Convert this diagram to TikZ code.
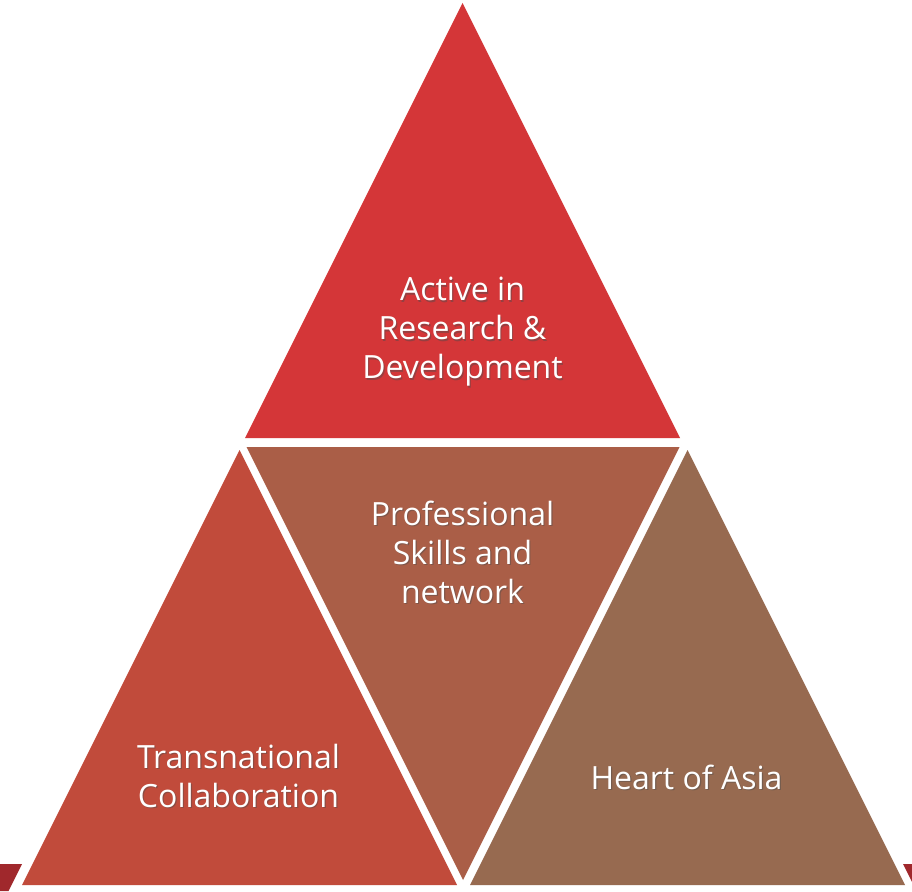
\documentclass[tikz,border=0pt]{standalone}
\usepackage{fontspec}
\setmainfont{Open Sans}
\definecolor{cTop}{HTML}{D43638}
\definecolor{cLeft}{HTML}{C14B3B}
\definecolor{cMid}{HTML}{AA5E47}
\definecolor{cRight}{HTML}{976A50}
\definecolor{cBar}{HTML}{A0282C}
\tikzset{
  lbl/.style={text=white, align=center, font=\fontsize{24}{29.25}\selectfont},
  shd/.style={text=black!70, opacity=0.45, align=center, font=\fontsize{24}{29.25}\selectfont},
}
\newcommand{\shlabel}[4]{%
  \node[shd] at ([xshift=0.9pt,yshift=-0.9pt]#2) {#4};
  \node[lbl] (#1) at (#2) {#4};
}
\begin{document}
\begin{tikzpicture}[x=0.75pt,y=-0.75pt]
\useasboundingbox (0,0) rectangle (912,891);
\fill[white] (0,0) rectangle (912,891);
% bar pieces
\fill[cBar] (0,864) -- (22,864) -- (8.5,891) -- (0,891) -- cycle;
\fill[cBar] (903,864) -- (912,864) -- (912,882) -- cycle;
% triangles
\fill[cTop] (462.5,3) -- (245,438) -- (680,438) -- cycle;
\fill[cMid] (246.5,447) -- (679.5,447) -- (463,880) -- cycle;
\fill[cLeft] (239.5,450) -- (22,885) -- (457,885) -- cycle;
\fill[cRight] (687.5,450) -- (470,885) -- (905,885) -- cycle;
% labels
\coordinate (pTop) at (462.5,332);
\coordinate (pMid) at (462.5,552);
\coordinate (pLeft) at (238.5,776);
\coordinate (pRight) at (686.5,777);
\shlabel{tTop}{pTop}{}{Active in\\Research \&\\Development}
\shlabel{tMid}{pMid}{}{Professional\\Skills and\\network}
\shlabel{tLeft}{pLeft}{}{Transnational\\Collaboration}
\shlabel{tRight}{pRight}{}{Heart of Asia}
\end{tikzpicture}
\end{document}
